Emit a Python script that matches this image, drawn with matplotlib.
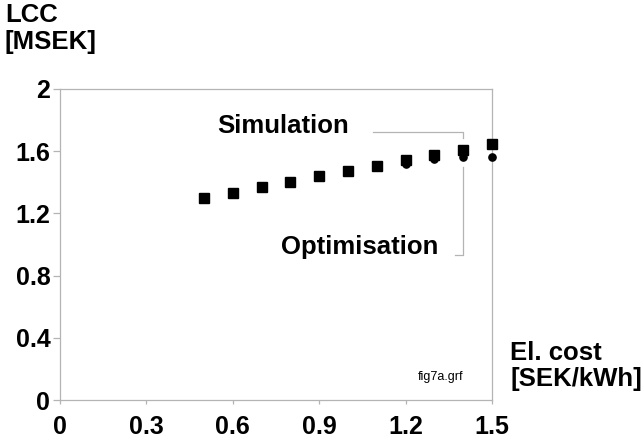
import matplotlib.pyplot as plt

plt.rcParams["font.family"] = ["Liberation Sans", "DejaVu Sans"]

# electricity cost [SEK/kWh] and life-cycle cost [MSEK]
el_cost = [0.5, 0.6, 0.7, 0.8, 0.9, 1.0, 1.1, 1.2, 1.3, 1.4, 1.5]
lcc_sim = [1.30, 1.333, 1.368, 1.404, 1.44, 1.473, 1.507, 1.543, 1.575, 1.61, 1.645]
lcc_opt = [1.30, 1.333, 1.368, 1.404, 1.44, 1.473, 1.50, 1.52, 1.55, 1.56, 1.56]

x_ticks = [0, 0.3, 0.6, 0.9, 1.2, 1.5]
x_labels = ["0", "0.3", "0.6", "0.9", "1.2", "1.5"]
y_ticks = [0, 0.4, 0.8, 1.2, 1.6, 2]
y_labels = ["0", "0.4", "0.8", "1.2", "1.6", "2"]

GREY = "#b4b4b4"
FS = 18.5

fig = plt.figure(figsize=(6.44, 4.42), dpi=100)
ax = fig.add_axes([60 / 644, 42 / 442, 432 / 644, 311 / 442])

ax.plot(el_cost, lcc_opt, "o", color="black", markersize=5.2, zorder=3,
        clip_on=False)
ax.plot(el_cost, lcc_sim, "s", color="black", markersize=7.2, zorder=4,
        clip_on=False)

ax.set_xlim(0, 1.5)
ax.set_ylim(0, 2)
ax.set_xticks(x_ticks, x_labels)
ax.set_yticks(y_ticks, y_labels)
ax.tick_params(axis="x", direction="out", length=3, width=0.9, color=GREY,
               labelsize=18, pad=8)
ax.tick_params(axis="y", direction="out", length=5, width=0.9, color=GREY,
               labelsize=18, pad=2)
for lbl in ax.get_xticklabels() + ax.get_yticklabels():
    lbl.set_fontweight("bold")
for sp in ax.spines.values():
    sp.set_color(GREY)
    sp.set_linewidth(0.9)

# leader lines to the 1.4 SEK/kWh points
i = el_cost.index(1.4)
ax.plot([1.087, 1.4, 1.4], [1.723, 1.723, lcc_sim[i] + 0.075],
        color=GREY, lw=0.9, clip_on=False)
ax.plot([1.372, 1.4, 1.4], [0.932, 0.932, lcc_opt[i] - 0.06],
        color=GREY, lw=0.9, clip_on=False)
ax.text(1.003, 1.765, "Simulation", fontsize=FS, fontweight="bold",
        ha="right", va="center")
ax.text(1.315, 0.985, "Optimisation", fontsize=FS, fontweight="bold",
        ha="right", va="center")

ax.text(1.323, 0.15, "fig7a.grf", fontsize=9, ha="center", va="center")

fig.text(5 / 644, 1 - 3 / 442, "LCC\n[MSEK]", fontsize=FS, fontweight="bold",
         ha="left", va="top", linespacing=1.15)
fig.text(510 / 644, 1 - 366 / 442, "El. cost\n[SEK/kWh]", fontsize=FS,
         fontweight="bold", ha="left", va="center", linespacing=1.15)

fig.savefig("out.png", dpi=100)
